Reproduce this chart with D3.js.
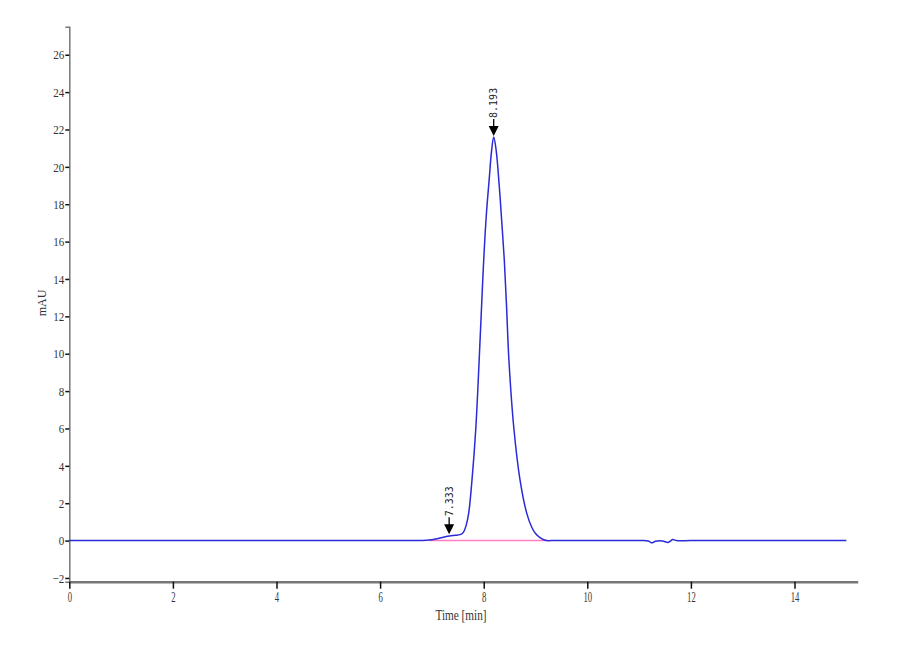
<!DOCTYPE html>
<html>
<head>
<meta charset="utf-8">
<style type="text/css">
    body { margin: 0; background: #ffffff; }
    svg { display: block; }
    .lbl { font-family: "Liberation Serif", "Times New Roman", serif; fill: #333333; }
</style>
</head>
<body>
<svg width="900" height="660"></svg>
<script type="text/javascript" src="https://cdn.jsdelivr.net/npm/d3@7"></script>
<script type="text/javascript">

    // chromatogram trace (time in min, signal in mAU)
    let traceTime = [0, 1, 2, 3, 4, 5, 6, 6.4, 6.7, 6.9, 7.0, 7.1, 7.2, 7.3, 7.4, 7.5, 7.56,
        7.61, 7.66, 7.71, 7.774, 7.846, 7.91, 7.96, 8.0, 8.05, 8.108, 8.15, 8.193,
        8.24, 8.301, 8.35, 8.398, 8.44, 8.488, 8.585, 8.701, 8.83, 8.93, 9.0,
        9.087, 9.15, 9.22, 9.3, 9.5, 10, 10.5, 11, 11.18, 11.24, 11.32, 11.45, 11.56, 11.61, 11.65,
        11.72, 12, 13, 14, 15];
    let traceMAU = [0, 0, 0, 0, 0, 0, 0, 0, 0, 0.02, 0.05, 0.1, 0.17, 0.23, 0.27, 0.3, 0.33,
        0.45, 0.8, 1.47, 3.25, 5.93, 9.5, 12.6, 15.0, 17.4, 19.4, 20.8, 21.6,
        20.9, 18.95, 17.0, 15.0, 12.6, 9.6, 5.93, 3.25, 1.47, 0.7, 0.38,
        0.16, 0.06, 0, 0, 0, 0, 0, 0, -0.02, -0.12, -0.03, -0.02, -0.1, -0.02, 0.06,
        0, 0, 0, 0, 0];

    // integration baseline under the peaks
    let baseTime = [6.95, 9.22];
    let baseMAU = [0, 0];

    // labelled peaks
    let peakTime = [7.333, 8.193];
    let peakMAU = [0.28, 21.6];
    let peakText = ["7.333", "8.193"];

    let xTicks = [0, 2, 4, 6, 8, 10, 12, 14];
    let yTicks = [-2, 0, 2, 4, 6, 8, 10, 12, 14, 16, 18, 20, 22, 24, 26];

    var svg = d3.select("svg");

    var x = d3.scaleLinear().domain([0, 15.22]).range([69.3, 857.7]);
    var y = d3.scaleLinear().domain([-2.2, 27.5]).range([581.7, 26.7]);

    // y axis
    var yAxis = svg.append("g").attr("transform", "translate(" + x(0) + ",0)")
        .call(d3.axisLeft(y).tickValues(yTicks).tickSize(4).tickPadding(2).tickFormat(d3.format("d")));
    yAxis.select(".domain").attr("stroke", "#777777").attr("stroke-width", 1.5);
    yAxis.selectAll(".tick line").attr("stroke", "#111111").attr("stroke-width", 1.5);
    yAxis.selectAll(".tick text")
        .attr("class", "lbl")
        .attr("font-size", 13)
        .attr("fill", "#444444")
        .attr("transform", "scale(0.85,1)");

    // x axis
    var xAxis = svg.append("g").attr("transform", "translate(0," + y(-2.2) + ")")
        .call(d3.axisBottom(x).tickValues(xTicks).tickSize(7).tickSizeOuter(0).tickPadding(3).tickFormat(d3.format("d")));
    xAxis.select(".domain").attr("stroke", "#777777").attr("stroke-width", 2.5);
    xAxis.selectAll(".tick line").attr("stroke", "#111111").attr("stroke-width", 1.5);
    xAxis.selectAll(".tick text")
        .attr("class", "lbl")
        .attr("font-size", 14)
        .attr("fill", "#444444")
        .attr("transform", "scale(0.62,1)"); // narrow glyphs like the original

    // axis titles
    svg.append("text").attr("class", "lbl")
        .attr("transform", "translate(461,620) scale(0.75,1)")
        .attr("text-anchor", "middle")
        .attr("font-size", 15)
        .text("Time [min]");

    svg.append("text").attr("class", "lbl")
        .attr("transform", "translate(46,303) rotate(-90)")
        .attr("text-anchor", "middle")
        .attr("font-size", 12)
        .text("mAU");

    var line = d3.line()
        .x(function(d) { return x(d[0]); })
        .y(function(d) { return y(d[1]); });

    // pink baseline
    svg.append("path")
        .datum(d3.zip(baseTime, baseMAU))
        .attr("fill", "none")
        .attr("stroke", "#ff7fc0")
        .attr("stroke-width", 1.5)
        .attr("d", line);

    // trace
    svg.append("path")
        .datum(d3.zip(traceTime, traceMAU))
        .attr("fill", "none")
        .attr("stroke", "#2a2ad8")
        .attr("stroke-width", 1.5)
        .attr("d", line.curve(d3.curveCatmullRom.alpha(0.5)));

    // peak markers: stem, arrow head, retention time
    var peaks = svg.selectAll(".peak")
        .data(d3.zip(peakTime, peakMAU, peakText))
        .enter()
        .append("g")
        .attr("class", "peak")
        .attr("transform", function(d) { return "translate(" + x(d[0]) + "," + (y(d[1]) - 1) + ")"; });

    peaks.append("line")
        .attr("x1", 0).attr("x2", 0)
        .attr("y1", -17).attr("y2", -8)
        .attr("stroke", "#000000").attr("stroke-width", 1.3);

    peaks.append("path")
        .attr("d", "M-5,-10 L5,-10 L0,0 Z")
        .attr("fill", "#000000");

    peaks.append("text")
        .attr("transform", "translate(0,-18) rotate(-90)")
        .attr("dy", "0.35em")
        .attr("font-family", "DejaVu Sans Mono, monospace")
        .attr("font-size", 10)
        .attr("fill", "#222222")
        .text(function(d) { return d[2]; });

</script>
</body>
</html>
